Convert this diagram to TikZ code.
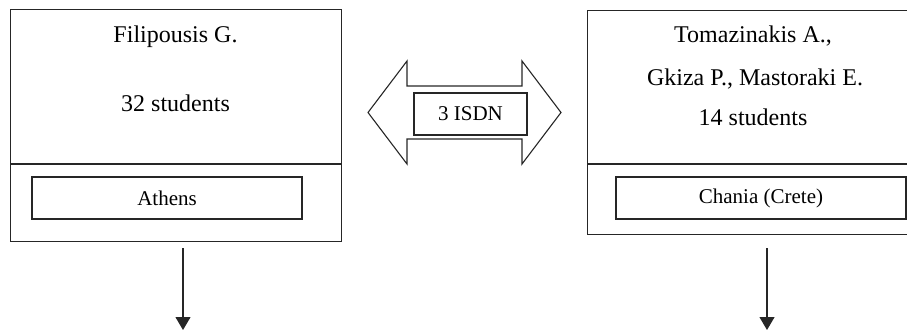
\documentclass[tikz,border=0pt]{standalone}
\usepackage{fontspec}
\setmainfont{Liberation Serif}
\usetikzlibrary{arrows.meta}
\begin{document}
\begin{tikzpicture}[x=1pt,y=-1pt, line width=1.1pt, draw=black!85,
  bigtext/.style={font=\fontsize{24}{28}\selectfont, anchor=base, inner sep=0pt},
  placebox/.style={draw, minimum height=42pt, inner sep=0pt, font=\fontsize{21}{25}\selectfont},
  outerbox/.style={draw, anchor=north west, inner sep=0pt},
  downarrow/.style={-{Triangle[length=13pt,width=15pt]}, line width=1.1pt}]
\useasboundingbox (0,0) rectangle (907,332);
% left site
\node[outerbox, minimum width=331pt, minimum height=232pt] (L) at (10,9) {};
\coordinate (ldiv) at (0,164);
\draw (L.west |- ldiv) -- (L.east |- ldiv);
\node[bigtext] (lname) at (175.5,42) {Filipousis G.};
\node[bigtext] (lstud) at (175.5,111) {32 students};
\node[placebox, minimum width=270pt] (athens) at (167,198) {Athens};
% right site
\node[outerbox, minimum width=333pt, minimum height=224pt] (R) at (587,10) {};
\coordinate (rdiv) at (0,164);
\draw (R.west |- rdiv) -- (R.east |- rdiv);
\node[bigtext] (rname1) at (753,42) {Tomazinakis A.,};
\node[bigtext] (rname2) at (755,85) {Gkiza P., Mastoraki E.};
\node[bigtext] (rstud) at (753,125) {14 students};
\node[placebox, minimum width=290pt] (chania) at (761,198) {Chania (Crete)};
% link
\draw (368,112.5) -- (407,61) -- (407,86) -- (522,86) -- (522,61) -- (561,112.5)
  -- (522,164) -- (522,139) -- (407,139) -- (407,164) -- cycle;
\node[placebox, minimum width=113pt] (isdn) at (470.5,114) {3 ISDN};
% outputs
\coordinate (lout) at (183,330);
\coordinate (rout) at (767,330);
\draw[downarrow] (L.south -| lout) ++(0,6) -- (lout);
\draw[downarrow] (R.south -| rout) ++(0,13) -- (rout);
\end{tikzpicture}
\end{document}
